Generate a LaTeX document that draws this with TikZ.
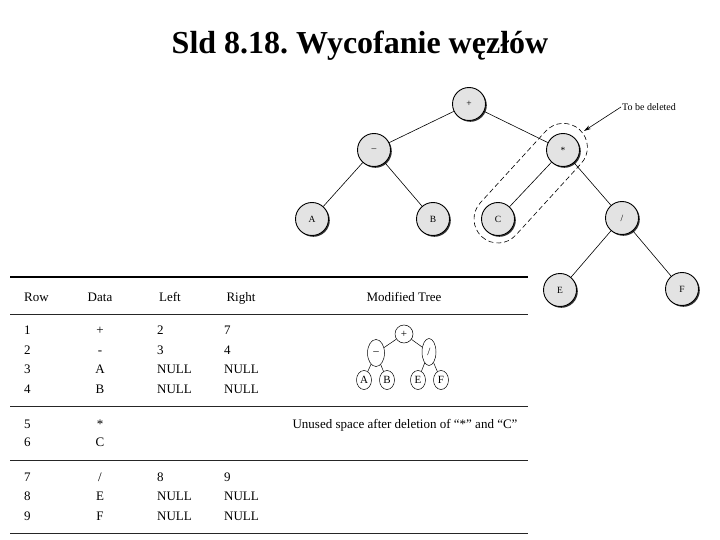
\documentclass[tikz,border=0pt]{standalone}
\usepackage{fontspec}
\setmainfont{Liberation Serif}
\usetikzlibrary{shadows,arrows.meta,shapes.geometric}
\begin{document}
\frenchspacing
\begin{tikzpicture}[x=1pt,y=-1pt,
  tnode/.style={circle,draw=black,line width=0.9pt,fill=gray!22,minimum size=33pt,inner sep=0pt,
    font=\fontsize{9.5}{10}\selectfont,
    drop shadow={shadow xshift=1.3pt,shadow yshift=-1.3pt,fill=black!80,opacity=1}},
  mnode/.style={ellipse,draw=black,line width=0.5pt,fill=white,inner sep=0pt,font=\fontsize{11}{12}\selectfont},
  edge/.style={line width=0.6pt},
  rule/.style={line width=0.8pt,black!85},
  cell/.style={font=\fontsize{13}{14}\selectfont,inner sep=0pt,anchor=base west},
  ccell/.style={font=\fontsize{13}{14}\selectfont,inner sep=0pt,anchor=base}]
\useasboundingbox (0,0) rectangle (720,540);
% title
\node[font=\fontsize{32}{34}\bfseries\selectfont,inner sep=0pt] (title) at (360,46) {Sld 8.18.\ Wycofanie węzłów};
% tree
\node[tnode] (root) at (469,104) {+};
\node[tnode] (minus) at (374,150) {--};
\node[tnode] (star) at (563,150) {*};
\node[tnode] (A) at (312,219) {A};
\node[tnode] (B) at (433,219) {B};
\node[tnode] (C) at (498,219) {C};
\node[tnode] (div) at (622,218) {/};
\node[tnode] (E) at (560,290) {E};
\node[tnode] (F) at (682,289) {F};
\draw[edge] (root) -- (minus);
\draw[edge] (root) -- (star);
\draw[edge] (minus) -- (A);
\draw[edge] (minus) -- (B);
\draw[edge] (star) -- (C);
\draw[edge] (star) -- (div);
\draw[edge] (div) -- (E);
\draw[edge] (div) -- (F);
% dashed capsule
\begin{scope}[shift={(C.center)},rotate=47.6]
\draw[line width=0.6pt,dash pattern=on 5pt off 3pt,rounded corners=24pt] (-24,-24) rectangle (121,24);
\end{scope}
\node[font=\fontsize{10}{11}\selectfont,anchor=west,inner sep=1pt] (tbd) at (621,107) {To be deleted};
\coordinate (arrend) at (584,131);
\draw[-{Stealth[length=7pt,width=4pt]},line width=0.6pt] (tbd.west) -- (arrend);
% table rules
\draw[line width=1.6pt] (10,277) -- (528,277);
\draw[rule] (10,314) -- (528,314);
\draw[rule] (10,406) -- (528,406);
\draw[rule] (10,460) -- (528,460);
\draw[rule] (10,533) -- (528,533);
% header
\node[cell] (hrow) at (24,301) {Row};
\node[ccell] (hdata) at (100,301) {Data};
\node[ccell] (hleft) at (170,301) {Left};
\node[ccell] (hright) at (241,301) {Right};
\node[ccell] (hmod) at (404,301) {Modified Tree};
% rows
\foreach \y/\r/\d/\l/\rr in {334/1/+/2/7, 354/2/-/3/4, 373/3/A/NULL/NULL, 393/4/B/NULL/NULL,
  500/8/E/NULL/NULL, 520/9/F/NULL/NULL}{
  \node[cell] (r\r) at (24,\y) {\r};
  \node[ccell] (d\r) at (100,\y) {\d};
  \node[cell] (l\r) at (157,\y) {\l};
  \node[cell] (q\r) at (224,\y) {\rr};
}
\node[cell] (r7) at (24,481) {7};
\node[ccell] (d7) at (100,481) {/};
\node[cell] (l7) at (157,481) {8};
\node[cell] (q7) at (224,481) {9};
\node[cell] (r5) at (24,428) {5};
\node[ccell] (d5) at (100,428) {*};
\node[cell] (r6) at (24,446) {6};
\node[ccell] (d6) at (100,446) {C};
\node[ccell] (unused) at (405,428) {Unused space after deletion of ``*'' and ``C''};
% mini tree
\node[mnode,minimum width=18pt,minimum height=18pt] (mroot) at (404,334) {+};
\node[mnode,minimum width=17pt,minimum height=27pt] (mminus) at (376,353) {--};
\node[mnode,minimum width=14pt,minimum height=27pt] (mdiv) at (429,352) {/};
\node[mnode,minimum width=15pt,minimum height=19pt] (mA) at (364,380) {A};
\node[mnode,minimum width=15pt,minimum height=19pt] (mB) at (387,380) {B};
\node[mnode,minimum width=15pt,minimum height=19pt] (mE) at (418,380) {E};
\node[mnode,minimum width=15pt,minimum height=19pt] (mF) at (441,380) {F};
\draw[line width=0.5pt] (mroot) -- (mminus);
\draw[line width=0.5pt] (mroot) -- (mdiv);
\draw[line width=0.5pt] (mminus) -- (mA);
\draw[line width=0.5pt] (mminus) -- (mB);
\draw[line width=0.5pt] (mdiv) -- (mE);
\draw[line width=0.5pt] (mdiv) -- (mF);
\end{tikzpicture}
\end{document}
